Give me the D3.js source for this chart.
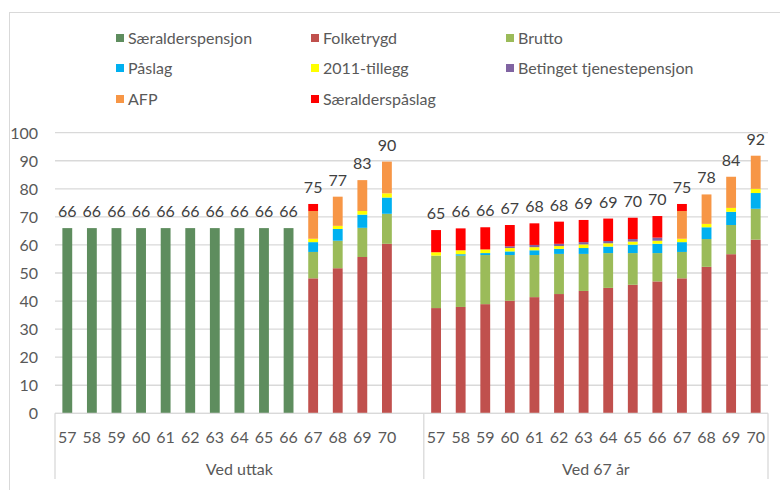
<!DOCTYPE html>
<html>
<head>
<meta charset="utf-8">
<script src="https://cdn.jsdelivr.net/npm/d3@7"></script>
<style>
  html, body { margin: 0; padding: 0; background: #fff; }
  svg { display: block; font-family: Lato, "Open Sans", sans-serif; }
</style>
</head>
<body>
<svg id="chart" width="780" height="490"></svg>
<script>
// ---- Data ----
const groups = ["Ved uttak", "Ved 67 år"];
const ages = ["57","58","59","60","61","62","63","64","65","66","67","68","69","70"];
const seriesNames = ["Særalderspensjon","Folketrygd","Brutto","Påslag","2011-tillegg","Betinget tjenestepensjon","AFP","Særalderspåslag"];
const seriesColors = ["#5E8D5E","#C0504D","#9BBB59","#00B0F0","#FFFF00","#8064A2","#F79646","#FF0000"];
const yTicks = [0,10,20,30,40,50,60,70,80,90,100];

// values: first 14 = "Ved uttak" ages 57..70, next 14 = "Ved 67 år" ages 57..70
const saeralderspensjon = [66,66,66,66,66,66,66,66,66,66,0,0,0,0,
                           0,0,0,0,0,0,0,0,0,0,0,0,0,0];
const folketrygd = [0,0,0,0,0,0,0,0,0,0,48.1,51.7,55.7,60.4,
                    37.5,37.9,38.9,40.1,41.4,42.5,43.6,44.7,45.8,47.0,48.1,52.2,56.7,61.9];
const brutto = [0,0,0,0,0,0,0,0,0,0,9.4,9.8,10.4,10.7,
                18.7,18.3,17.5,16.3,15.0,14.3,13.2,12.4,11.3,10.1,9.4,9.9,10.4,11.0];
const paslag = [0,0,0,0,0,0,0,0,0,0,3.5,4.2,4.7,5.8,
                0,0.5,0.7,1.3,1.7,1.8,2.1,2.3,3.0,3.3,3.5,4.2,4.7,5.6];
const tillegg2011 = [0,0,0,0,0,0,0,0,0,0,1.2,1.1,1.3,1.5,
                     1.2,1.4,1.3,1.2,1.1,1.0,1.3,1.2,1.1,1.1,1.2,1.2,1.4,1.5];
const betinget = [0,0,0,0,0,0,0,0,0,0,0,0,0,0,
                  0,0,0,0.6,0.8,0.8,0.8,0.8,0.9,1.1,0,0,0,0];
const afp = [0,0,0,0,0,0,0,0,0,0,9.9,10.4,11.0,11.3,
             0,0,0,0,0,0,0,0,0,0,9.9,10.5,11.1,11.8];
const saeralderspaslag = [0,0,0,0,0,0,0,0,0,0,2.5,0,0,0,
                          7.9,7.8,7.9,7.6,7.7,7.9,7.9,8.0,7.6,7.7,2.5,0,0,0];

const seriesValues = [saeralderspensjon, folketrygd, brutto, paslag, tillegg2011, betinget, afp, saeralderspaslag];

// ---- Build table ----
const rows = [];
groups.forEach((g, gi) => {
  ages.forEach((a, ai) => {
    const idx = gi * ages.length + ai;
    const row = { key: g + "|" + a, group: g, age: a };
    seriesNames.forEach((s, si) => { row[s] = seriesValues[si][idx]; });
    rows.push(row);
  });
});
// domain with a blank category between groups
const domain = [];
groups.forEach((g, gi) => {
  ages.forEach(a => domain.push(g + "|" + a));
  if (gi < groups.length - 1) domain.push("blank" + gi);
});

// ---- Layout ----
const svg = d3.select("#chart");
const plotLeft = 55, plotRight = 768, plotTop = 132.7, plotBottom = 413.3;

const x = d3.scaleBand().domain(domain).range([plotLeft, plotRight]).paddingInner(0.6).paddingOuter(0.3);
const y = d3.scaleLinear().domain([0, 100]).range([plotBottom, plotTop]);

// outer chart border
svg.append("rect").attr("x", 9.5).attr("y", 12.5).attr("width", 820).attr("height", 520)
  .attr("fill", "none").attr("stroke", "#d9d9d9").attr("stroke-width", 1);

// gridlines
svg.append("g").selectAll("line").data(yTicks).join("line")
  .attr("x1", plotLeft).attr("x2", plotRight)
  .attr("y1", d => y(d)).attr("y2", d => y(d))
  .attr("stroke", "#d9d9d9").attr("stroke-width", 1.3);

// y axis labels
const yAxis = d3.axisLeft(y).tickValues(yTicks).tickSize(0).tickPadding(0);
const yg = svg.append("g").attr("transform", `translate(38,0)`).call(yAxis);
yg.select(".domain").remove();
yg.selectAll("text").attr("font-size", 16).attr("fill", "#595959").attr("font-family", "Lato, sans-serif").attr("dy", "0.34em");

// stacked bars
const stack = d3.stack().keys(seriesNames);
const stacked = stack(rows);
const gBars = svg.append("g");
stacked.forEach((layer, si) => {
  gBars.append("g").attr("fill", seriesColors[si])
    .selectAll("rect").data(layer.filter(d => d[1] - d[0] > 0)).join("rect")
    .attr("x", d => x(d.data.key))
    .attr("width", x.bandwidth())
    .attr("y", d => y(d[1]))
    .attr("height", d => y(d[0]) - y(d[1]));
});

// total labels
svg.append("g").selectAll("text").data(rows).join("text")
  .attr("x", d => x(d.key) + x.bandwidth() / 2)
  .attr("y", d => {
    const t = seriesNames.reduce((s, k) => s + d[k], 0);
    return y(t) - 11;
  })
  .attr("text-anchor", "middle")
  .attr("font-size", 16).attr("fill", "#404040")
  .text(d => Math.round(Math.round(seriesNames.reduce((s, k) => s + d[k], 0) * 10) / 10));

// x axis line
svg.append("line").attr("x1", plotLeft).attr("x2", plotRight)
  .attr("y1", plotBottom).attr("y2", plotBottom)
  .attr("stroke", "#d9d9d9").attr("stroke-width", 1.3);

// category labels
svg.append("g").selectAll("text").data(rows).join("text")
  .attr("x", d => x(d.key) + x.bandwidth() / 2)
  .attr("y", 443)
  .attr("text-anchor", "middle")
  .attr("font-size", 16).attr("fill", "#595959")
  .text(d => d.age);

// group separators and labels
const step = x.step();
const bounds = [plotLeft];
groups.forEach((g, gi) => {
  if (gi > 0) bounds.push(x(g + "|" + ages[0]) - step * 0.3);
});
bounds.push(plotRight);
svg.append("g").selectAll("line").data(bounds).join("line")
  .attr("x1", d => d).attr("x2", d => d)
  .attr("y1", plotBottom).attr("y2", 479)
  .attr("stroke", "#d9d9d9").attr("stroke-width", 1.3);
svg.append("g").selectAll("text").data(groups).join("text")
  .attr("x", (d, i) => (bounds[i] + bounds[i + 1]) / 2)
  .attr("y", 475)
  .attr("text-anchor", "middle")
  .attr("font-size", 16).attr("fill", "#595959")
  .text(d => d);

// legend
const legX = [116, 311, 506];
const legY = [38, 68, 99];
const leg = svg.append("g").selectAll("g").data(seriesNames).join("g")
  .attr("transform", (d, i) => `translate(${legX[i % 3]},${legY[Math.floor(i / 3)]})`);
leg.append("rect").attr("x", 0).attr("y", -4).attr("width", 8).attr("height", 8)
  .attr("fill", (d, i) => seriesColors[i]);
leg.append("text").attr("x", 12).attr("y", 0).attr("dy", "0.35em")
  .attr("font-size", 16).attr("fill", "#595959")
  .text(d => d);
</script>
</body>
</html>
